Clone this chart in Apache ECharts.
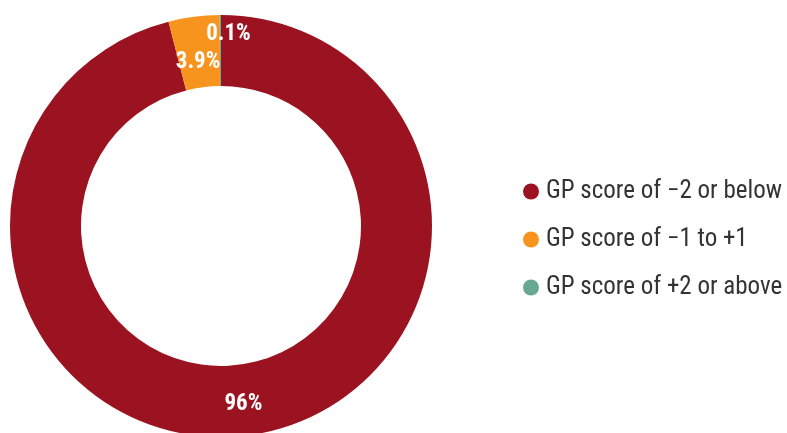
<!DOCTYPE html>
<html>
<head>
<meta charset="utf-8">
<script src="https://cdn.jsdelivr.net/npm/echarts@6/dist/echarts.min.js"></script>
<style>
  html, body { margin: 0; padding: 0; background: #fff; }
  #chart { width: 787px; height: 433px; }
</style>
</head>
<body>
<div id="chart"></div>
<script>
const categories = ['GP score of \u22122 or below', 'GP score of \u22121 to +1', 'GP score of +2 or above']
const values = [96, 3.9, 0.1]
const labels = ['96%', '3.9%', '0.1%']
const colors = ['#9b1320', '#f7941d', '#68a892']

const font = '"Liberation Sans Narrow", "Roboto Condensed", Roboto, sans-serif'

// small labels get nudged like in the original
const labelOffsets = [[0, 1], [0, 13], [8, -13]]

const myChart = echarts.init(document.getElementById('chart'))
const option = {
  animation: false,
  legend: {
    orient: 'vertical',
    left: 518,
    top: 174,
    itemWidth: 16,
    itemHeight: 16,
    itemGap: 23,
    icon: 'circle',
    textStyle: {
      fontFamily: font,
      fontSize: 25,
      color: '#333',
      padding: [0, 0, 0, 2],
    },
    data: categories,
  },
  series: [{
    type: 'pie',
    center: [221, 226],
    radius: [140, 211],
    startAngle: 90,
    clockwise: true,
    avoidLabelOverlap: false,
    label: {
      show: true,
      position: 'inside',
      color: '#fff',
      fontFamily: font,
      fontWeight: 'bold',
      fontSize: 23,
    },
    labelLine: { show: false },
    emphasis: { disabled: true },
    data: categories.map((name, i) => ({
      name,
      value: values[i],
      itemStyle: { color: colors[i] },
      label: { formatter: labels[i], offset: labelOffsets[i] },
    })),
  }],
}
myChart.setOption(option, true)
</script>
</body>
</html>
